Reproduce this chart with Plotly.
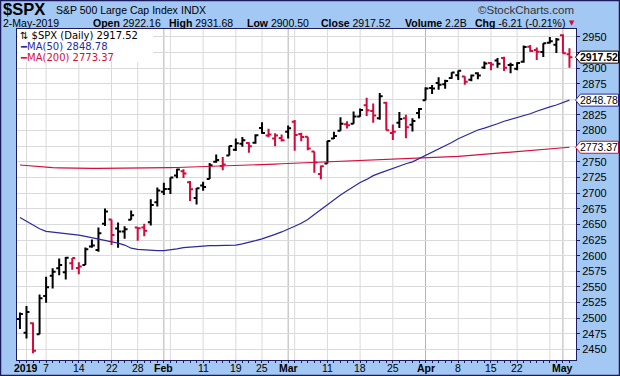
import plotly.graph_objects as go

# ---------------- data ----------------
dates = ["2018-12-31",
         "2019-01-02", "2019-01-03", "2019-01-04", "2019-01-07", "2019-01-08", "2019-01-09", "2019-01-10",
         "2019-01-11", "2019-01-14", "2019-01-15", "2019-01-16", "2019-01-17", "2019-01-18", "2019-01-22",
         "2019-01-23", "2019-01-24", "2019-01-25", "2019-01-28", "2019-01-29", "2019-01-30", "2019-01-31",
         "2019-02-01", "2019-02-04", "2019-02-05", "2019-02-06", "2019-02-07", "2019-02-08", "2019-02-11",
         "2019-02-12", "2019-02-13", "2019-02-14", "2019-02-15", "2019-02-19", "2019-02-20", "2019-02-21",
         "2019-02-22", "2019-02-25", "2019-02-26", "2019-02-27", "2019-02-28",
         "2019-03-01", "2019-03-04", "2019-03-05", "2019-03-06", "2019-03-07", "2019-03-08", "2019-03-11",
         "2019-03-12", "2019-03-13", "2019-03-14", "2019-03-15", "2019-03-18", "2019-03-19", "2019-03-20",
         "2019-03-21", "2019-03-22", "2019-03-25", "2019-03-26", "2019-03-27", "2019-03-28", "2019-03-29",
         "2019-04-01", "2019-04-02", "2019-04-03", "2019-04-04", "2019-04-05", "2019-04-08", "2019-04-09",
         "2019-04-10", "2019-04-11", "2019-04-12", "2019-04-15", "2019-04-16", "2019-04-17", "2019-04-18",
         "2019-04-22", "2019-04-23", "2019-04-24", "2019-04-25", "2019-04-26", "2019-04-29", "2019-04-30",
         "2019-05-01", "2019-05-02"]

opens = [2498.94,
         2476.96, 2491.92, 2474.33, 2535.61, 2568.11, 2580.00, 2573.51, 2588.11, 2580.31, 2585.10, 2614.75,
         2609.28, 2651.27, 2657.88, 2643.48, 2638.84, 2657.44, 2644.97, 2644.89, 2653.62, 2685.49,
         2702.32, 2706.49, 2728.34, 2735.05, 2717.53, 2692.36, 2712.40, 2722.61, 2750.30, 2743.50, 2760.24,
         2769.28, 2779.05, 2780.24, 2780.67, 2804.35, 2792.36, 2787.50, 2788.11,
         2798.22, 2814.37, 2794.41, 2790.27, 2766.53, 2730.79, 2747.61, 2787.34, 2799.78, 2810.38, 2810.79,
         2822.61, 2840.76, 2831.34, 2819.72, 2844.52, 2796.01, 2812.66, 2819.72, 2809.40, 2828.27,
         2848.63, 2868.24, 2876.09, 2873.99, 2884.16, 2888.46, 2886.58, 2881.37, 2891.92, 2900.86, 2908.32,
         2912.26, 2916.04, 2904.81, 2898.78, 2909.99, 2934.00, 2928.99, 2925.81, 2940.58, 2937.14,
         2952.33, 2922.16]

highs = [2509.24,
         2519.49, 2493.14, 2538.07, 2566.16, 2579.82, 2595.32, 2597.82, 2596.27, 2589.32, 2613.08, 2625.76,
         2645.06, 2675.47, 2657.88, 2653.19, 2647.20, 2672.38, 2644.97, 2650.93, 2690.44, 2708.95,
         2716.66, 2724.99, 2738.98, 2738.08, 2719.32, 2708.07, 2718.05, 2748.19, 2761.85, 2757.90, 2775.66,
         2787.33, 2789.88, 2781.58, 2794.20, 2813.49, 2803.12, 2795.76, 2793.73,
         2808.02, 2816.88, 2796.44, 2790.27, 2766.53, 2744.13, 2784.00, 2798.32, 2821.24, 2815.00, 2830.73,
         2835.41, 2852.42, 2843.54, 2860.31, 2846.16, 2809.79, 2829.87, 2825.56, 2819.71, 2836.03,
         2869.40, 2872.90, 2885.25, 2881.28, 2893.24, 2895.95, 2886.88, 2889.71, 2893.42, 2910.54, 2909.60,
         2916.06, 2918.00, 2908.40, 2909.51, 2936.31, 2936.83, 2933.10, 2939.88, 2949.52, 2948.22,
         2954.13, 2931.68]

lows = [2482.82,
        2467.47, 2443.96, 2474.33, 2524.56, 2547.56, 2568.89, 2562.02, 2577.40, 2570.41, 2585.10, 2612.68,
        2606.36, 2647.58, 2617.27, 2612.86, 2627.01, 2657.33, 2624.06, 2631.05, 2648.34, 2678.65,
        2696.88, 2698.75, 2724.03, 2724.15, 2687.26, 2681.83, 2703.79, 2722.61, 2748.63, 2736.56, 2760.24,
        2767.29, 2774.06, 2764.55, 2779.11, 2794.99, 2789.47, 2775.13, 2782.51,
        2787.38, 2767.66, 2782.97, 2768.69, 2732.76, 2722.27, 2747.61, 2786.73, 2799.78, 2803.46, 2810.79,
        2821.99, 2823.27, 2812.43, 2817.38, 2800.47, 2785.02, 2803.99, 2787.72, 2798.77, 2819.23,
        2848.63, 2858.75, 2865.17, 2867.14, 2882.99, 2880.78, 2873.33, 2879.13, 2881.99, 2898.37, 2896.48,
        2900.71, 2895.45, 2891.90, 2896.35, 2908.53, 2926.05, 2912.84, 2917.56, 2939.35, 2924.11,
        2923.36, 2900.50]

closes = [2506.85,
          2510.03, 2447.89, 2531.94, 2549.69, 2574.41, 2584.96, 2596.64, 2596.26, 2582.61, 2610.30, 2616.10,
          2635.96, 2670.71, 2632.90, 2638.70, 2642.33, 2664.76, 2643.85, 2640.00, 2681.05, 2704.10,
          2706.53, 2724.87, 2737.70, 2731.61, 2706.05, 2707.88, 2709.80, 2744.73, 2753.03, 2745.73, 2775.60,
          2779.76, 2784.70, 2774.88, 2792.67, 2796.11, 2793.90, 2792.38, 2784.49,
          2803.69, 2792.81, 2789.65, 2771.45, 2748.93, 2743.07, 2783.30, 2791.52, 2810.92, 2808.48, 2822.48,
          2832.94, 2832.57, 2824.23, 2854.88, 2800.71, 2798.36, 2818.46, 2805.37, 2815.44, 2834.40,
          2867.19, 2867.24, 2873.40, 2879.39, 2892.74, 2895.77, 2878.20, 2888.21, 2888.32, 2907.41, 2905.58,
          2907.06, 2900.45, 2905.03, 2907.97, 2933.68, 2927.25, 2926.17, 2939.88, 2943.03, 2945.83,
          2923.73, 2917.52]

prev_close = 2485.74   # close of 2018-12-28 (colours the first bar)
volume_text = "2.2B"

ma50 = [2661, 2655, 2649, 2643, 2639, 2638, 2637, 2636, 2635, 2633,
        2631, 2629, 2627, 2625, 2622, 2620, 2617, 2612, 2610, 2609,
        2608.5, 2608, 2608, 2609, 2611, 2613, 2614, 2615, 2615.5, 2616,
        2616, 2616, 2616, 2617, 2619, 2621, 2624, 2627, 2630, 2634,
        2638, 2642, 2647, 2652, 2658, 2666, 2674, 2682, 2690, 2697,
        2704, 2711, 2717, 2722, 2728, 2732, 2736, 2740, 2743, 2747,
        2750, 2755, 2760, 2765, 2770, 2776, 2781, 2787, 2792, 2797,
        2801, 2804, 2807, 2811, 2815, 2818, 2821, 2823, 2827, 2831,
        2835, 2838, 2841, 2845, 2848.78]

ma200 = [2745.0, 2744.0, 2743.0, 2742.0, 2741.3, 2740.8, 2740.4, 2740.0, 2739.7, 2739.5,
         2739.4, 2739.5, 2739.7, 2739.9, 2740.1, 2740.3, 2740.4, 2740.5, 2740.5, 2740.5,
         2740.5, 2740.5, 2740.6, 2740.8, 2741.0, 2741.3, 2741.6, 2741.8, 2742.1, 2742.4,
         2742.8, 2743.2, 2743.6, 2744.0, 2744.5, 2744.9, 2745.3, 2745.7, 2746.1, 2746.5,
         2747.0, 2747.4, 2747.9, 2748.5, 2749.0, 2749.4, 2749.8, 2750.2, 2750.6, 2751.0,
         2751.4, 2751.8, 2752.2, 2752.6, 2753.0, 2753.4, 2753.8, 2754.2, 2754.6, 2755.0,
         2755.3, 2755.7, 2756.1, 2756.5, 2757.0, 2757.6, 2758.2, 2758.9, 2759.7, 2760.5,
         2761.8, 2762.8, 2763.8, 2764.8, 2765.6, 2766.4, 2767.2, 2768.0, 2768.8, 2769.6,
         2770.4, 2771.2, 2772.0, 2772.7, 2773.37]

tick_dates = ["2019-01-02", "2019-01-07", "2019-01-14", "2019-01-22", "2019-01-28", "2019-02-01",
              "2019-02-11", "2019-02-19", "2019-02-25", "2019-03-01", "2019-03-11", "2019-03-18",
              "2019-03-25", "2019-04-01", "2019-04-08", "2019-04-15", "2019-04-22", "2019-05-01"]
tick_labels = ["<b>2019</b>", "7", "14", "22", "28", "<b>Feb</b>",
               "11", "19", "25", "<b>Mar</b>", "11", "18",
               "25", "<b>Apr</b>", "8", "15", "22", "<b>May</b>"]

week_grid_dates = ["2019-01-02", "2019-01-07", "2019-01-14", "2019-01-22", "2019-01-28", "2019-02-04",
                   "2019-02-11", "2019-02-19", "2019-02-25", "2019-03-04", "2019-03-11", "2019-03-18",
                   "2019-03-25", "2019-04-08", "2019-04-15", "2019-04-22", "2019-04-29"]
month_grid_dates = ["2019-02-01", "2019-03-01", "2019-04-01", "2019-05-01"]

y_ticks = [2450, 2475, 2500, 2525, 2550, 2575, 2600, 2625, 2650, 2675, 2700,
           2725, 2750, 2775, 2800, 2825, 2850, 2875, 2900, 2925, 2950]

# ---------------- style ----------------
W, H = 620, 376
PL, PR, PT, PB = 17, 576, 29, 360
YMIN, YMAX = 2433.2, 2962.5
XMIN, XMAX = -0.45, 85.0
BLUE_BG = "#a3c8f3"
NAVY = "#1b1b5e"
RED = "#d2093a"
MA50_C = "#2a2a9e"
MA200_C = "#d40f3c"
FONT = "Liberation Sans, Arial, sans-serif"


def xp(px):
    return (px - PL) / (PR - PL)


def yp(py):
    return (PB - py) / (PB - PT)


def vy(v):
    return (v - YMIN) / (YMAX - YMIN)


# colour by close vs previous close (StockCharts style)
up_idx, dn_idx = [], []
pc = prev_close
for i, c in enumerate(closes):
    (dn_idx if c < pc else up_idx).append(i)
    pc = c


def sub(arr, idx):
    return [arr[i] for i in idx]


fig = go.Figure()
fig.add_trace(go.Scatter(x=dates, y=ma200, mode="lines", line=dict(color=MA200_C, width=1.2),
                         hoverinfo="skip", showlegend=False))
fig.add_trace(go.Scatter(x=dates, y=ma50, mode="lines", line=dict(color=MA50_C, width=1.2),
                         hoverinfo="skip", showlegend=False))
for idx, col in ((up_idx, "black"), (dn_idx, RED)):
    fig.add_trace(go.Ohlc(x=sub(dates, idx), open=sub(opens, idx), high=sub(highs, idx),
                          low=sub(lows, idx), close=sub(closes, idx), tickwidth=0.45,
                          increasing=dict(line=dict(color=col, width=2)),
                          decreasing=dict(line=dict(color=col, width=2)),
                          showlegend=False, hoverinfo="skip"))

shapes = []
for d in week_grid_dates:
    k = dates.index(d)
    shapes.append(dict(type="line", xref="x", yref="paper", x0=k, x1=k, y0=0, y1=1,
                       line=dict(color="#dadada", width=1), layer="below"))
for d in month_grid_dates:
    k = dates.index(d)
    shapes.append(dict(type="line", xref="x", yref="paper", x0=k, x1=k, y0=0, y1=1,
                       line=dict(color="#b2b2b2", width=1), layer="below"))
# legend background
shapes.append(dict(type="rect", xref="paper", yref="paper", x0=xp(PL + 1), x1=xp(153),
                   y0=yp(62), y1=yp(PT + 1), fillcolor="white", line=dict(width=0), layer="above"))

annotations = []
# right-hand value tags
tags = [(closes[-1], "black", True), (ma50[-1], MA50_C, False), (ma200[-1], MA200_C, False)]
for v, col, bold in tags:
    c = vy(v)
    hh = 6 / (PB - PT)
    path = "M {a},{c} L {b},{t} L {r},{t} L {r},{bt} L {b},{bt} Z".format(
        a=xp(575.5), b=xp(580.5), r=xp(618.5), c=c, t=c + hh, bt=c - hh)
    shapes.append(dict(type="path", xref="paper", yref="paper", path=path,
                       fillcolor="white", line=dict(color=col, width=1), layer="above"))
    txt = "{:.2f}".format(v)
    annotations.append(dict(xref="paper", yref="paper", x=xp(599), y=c, showarrow=False,
                            text=("<b>%s</b>" % txt) if bold else txt, xanchor="center",
                            yanchor="middle",
                            font=dict(family=FONT, size=10.5, color="black")))

# y tick labels hidden where a value tag sits over them
y_ticktext = []
for t in y_ticks:
    covered = any(abs(t - v) < 9 for v, _, _ in tags)
    y_ticktext.append("" if covered else str(t))

# outer border
shapes.append(dict(type="rect", xref="paper", yref="paper", x0=xp(0.5), x1=xp(W - 0.5),
                   y0=yp(H - 0.5), y1=yp(0.5), line=dict(color=NAVY, width=1.5), layer="above"))

# legend text
legend_rows = [
    ("\u21c5 $SPX (Daily) {:.2f}".format(closes[-1]), "black", 35.5),
    ("<span style='color:%s'>\u2501</span>MA(50) %.2f" % (MA50_C, ma50[-1]), MA50_C, 46.5),
    ("<span style='color:%s'>\u2501</span>MA(200) %.2f" % (MA200_C, ma200[-1]), MA200_C, 57.5),
]
for t, col, py in legend_rows:
    annotations.append(dict(xref="paper", yref="paper", x=xp(19), y=yp(py), text=t,
                            showarrow=False, xanchor="left", yanchor="middle", borderpad=0,
                            font=dict(family="DejaVu Sans, Verdana, sans-serif", size=10, color=col)))

# header
chg = closes[-1] - closes[-2]
pct = chg / closes[-2] * 100
hdr1 = [("<b>$SPX</b>", 2, 16.5, 9), ("S&amp;P 500 Large Cap Index", 55, 10.5, 10),
        ("INDX", 180, 10.5, 10)]
for t, px, fs, py in hdr1:
    annotations.append(dict(xref="paper", yref="paper", x=xp(px), y=yp(py), text=t,
                            showarrow=False, xanchor="left", yanchor="middle", borderpad=0,
                            font=dict(family=FONT, size=fs, color="black")))
annotations.append(dict(xref="paper", yref="paper", x=xp(576), y=yp(10), text="\u00a9StockCharts.com",
                        showarrow=False, xanchor="right", yanchor="middle",
                        font=dict(family=FONT, size=11.5, color="#333333")))
hdr2 = [("2-May-2019", 2),
        ("<b>Open</b> {:.2f}".format(opens[-1]), 92),
        ("<b>High</b> {:.2f}".format(highs[-1]), 168),
        ("<b>Low</b> {:.2f}".format(lows[-1]), 246),
        ("<b>Close</b> {:.2f}".format(closes[-1]), 320),
        ("<b>Volume</b> " + volume_text, 404),
        ("<b>Chg</b> {:.2f} ({:.2f}%)".format(chg, pct), 474)]
for t, px in hdr2:
    annotations.append(dict(xref="paper", yref="paper", x=xp(px), y=yp(23.5), text=t,
                            showarrow=False, xanchor="left", yanchor="middle", borderpad=0,
                            font=dict(family=FONT, size=10.5, color="black")))
annotations.append(dict(xref="paper", yref="paper", x=xp(571.5), y=yp(23.5), text="\u25bc",
                        showarrow=False, xanchor="center", yanchor="middle",
                        font=dict(family="DejaVu Sans", size=7, color=RED)))

# x axis labels (placed as annotations on the category scale)
for d, t in zip(tick_dates, tick_labels):
    annotations.append(dict(xref="x", yref="paper", x=dates.index(d), y=yp(367.5), text=t,
                            showarrow=False, xanchor="center", yanchor="middle",
                            font=dict(family=FONT, size=10.5, color="black")))

fig.update_layout(
    width=W, height=H,
    margin=dict(l=PL, r=W - PR, t=PT, b=H - PB, pad=0),
    paper_bgcolor=BLUE_BG, plot_bgcolor="white",
    showlegend=False,
    shapes=shapes, annotations=annotations,
    xaxis=dict(type="category", categoryorder="array", categoryarray=dates,
               range=[XMIN, XMAX], tickmode="array", tickvals=dates,
               showticklabels=False, ticks="outside", ticklen=2, tickcolor=NAVY, showgrid=False,
               showline=True, linecolor=NAVY, linewidth=1, mirror=True,
               rangeslider=dict(visible=False), automargin=False, fixedrange=True),
    yaxis=dict(side="right", range=[YMIN, YMAX], tickmode="array", tickvals=y_ticks,
               ticktext=y_ticktext,
               ticks="outside", ticklen=3, tickcolor=NAVY, showgrid=True, gridcolor="#dadada",
               gridwidth=1, showline=True, linecolor=NAVY, linewidth=1, mirror=True,
               zeroline=False, automargin=False, fixedrange=True,
               tickfont=dict(family=FONT, size=11, color="black")),
)

fig.write_html("out.html", config={"displayModeBar": False},
               post_script="document.body.style.margin='0';document.body.style.overflow='hidden';")
